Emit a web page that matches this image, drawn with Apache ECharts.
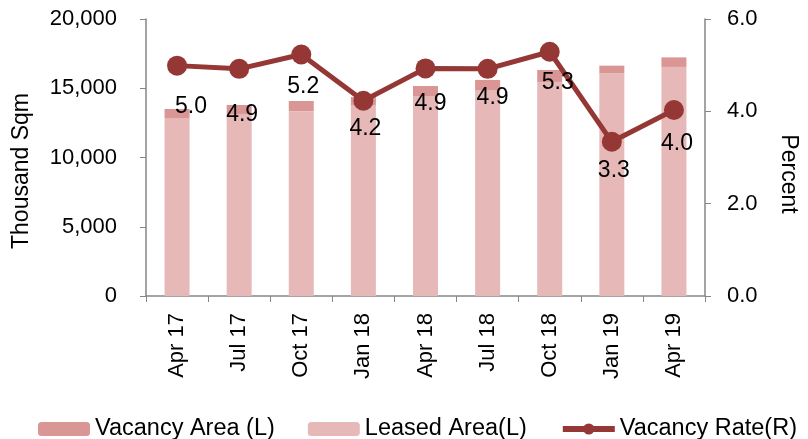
<!DOCTYPE html>
<html><head><meta charset="utf-8">
<script src="https://cdn.jsdelivr.net/npm/echarts@6/dist/echarts.min.js"></script>
<style>html,body{margin:0;padding:0;background:#fff}#c{width:808px;height:439px}</style>
</head><body><div id="c"></div>
<script>
const categories = ['Apr 17','Jul 17','Oct 17','Jan 18','Apr 18','Jul 18','Oct 18','Jan 19','Apr 19'];
const leasedArea = [12825, 13114, 13348, 13766, 14417, 14836, 15455, 16081, 16541];
const vacancyArea = [675, 676, 732, 604, 743, 764, 865, 549, 689];
const vacancyRate = [4.99, 4.92, 5.23, 4.23, 4.93, 4.92, 5.29, 3.34, 4.03];

// manual label nudges (dx, dy) as placed in the source chart
const labelNudge = [[14, 14], [3, 18], [2, 5], [2, 0], [5, 8], [5, 1], [8, 3], [2, 1], [3, 6]];

const font = 'Liberation Sans, Arial, sans-serif';
const axisGray = '#868686';
const chart = echarts.init(document.getElementById('c'));
chart.setOption({
  animation: false,
  textStyle: {fontFamily: font},
  grid: {left: 146, right: 97, top: 19, bottom: 143, containLabel: false},
  legend: {
    top: 412, left: 33, itemWidth: 52, itemHeight: 14, itemGap: 33,
    data: [
      {name: 'Vacancy Area (L)'},
      {name: 'Leased Area(L)'},
      {name: 'Vacancy Rate(R)', lineStyle: {width: 6, color: '#953735'}, itemStyle: {color: '#953735'}}
    ],
    textStyle: {fontSize: 23.5, color: '#000', fontFamily: font}
  },
  xAxis: {
    type: 'category', data: categories, boundaryGap: true,
    axisLine: {lineStyle: {color: axisGray, width: 1.5}},
    axisTick: {show: true, alignWithLabel: false, length: 6, lineStyle: {color: axisGray}},
    axisLabel: {rotate: 90, fontSize: 22, color: '#000', margin: 17, fontFamily: font}
  },
  yAxis: [{
    type: 'value', min: 0, max: 20000, interval: 5000,
    name: 'Thousand Sqm', nameLocation: 'middle', nameGap: 113,
    nameTextStyle: {fontSize: 23, color: '#000', fontFamily: font, padding: [0, 27, 0, 0]},
    axisLine: {show: true, lineStyle: {color: axisGray, width: 1.5}},
    axisTick: {show: true, length: 6, lineStyle: {color: axisGray}},
    splitLine: {show: false},
    axisLabel: {fontSize: 22, color: '#000', margin: 29, fontFamily: font,
      formatter: v => v.toLocaleString('en-US')}
  }, {
    type: 'value', min: 0, max: 6, interval: 2, position: 'right',
    name: 'Percent', nameLocation: 'middle', nameGap: 72, nameRotate: -90,
    nameTextStyle: {fontSize: 23, color: '#000', fontFamily: font, padding: [0, 0, 0, 33]},
    axisLine: {show: true, lineStyle: {color: axisGray, width: 1.5}},
    axisTick: {show: true, length: 6, lineStyle: {color: axisGray}},
    splitLine: {show: false},
    axisLabel: {fontSize: 22, color: '#000', margin: 22, fontFamily: font,
      formatter: v => v.toFixed(1)}
  }],
  series: [{
    name: 'Leased Area(L)', type: 'bar', stack: 'area', data: leasedArea,
    barWidth: 25, itemStyle: {color: '#E6B9B8'}
  }, {
    name: 'Vacancy Area (L)', type: 'bar', stack: 'area', data: vacancyArea,
    barWidth: 25, itemStyle: {color: '#D99694'}
  }, {
    name: 'Vacancy Rate(R)', type: 'line', yAxisIndex: 1,
    data: vacancyRate.map((v, i) => ({value: v, label: {offset: labelNudge[i]}})),
    symbol: 'circle', symbolSize: 20,
    lineStyle: {color: '#953735', width: 5}, itemStyle: {color: '#953735'},
    label: {show: true, position: 'bottom', distance: 6, fontSize: 23, color: '#000',
      fontFamily: font, formatter: p => p.value.toFixed(1)},
    z: 5
  }]
});
</script></body></html>
